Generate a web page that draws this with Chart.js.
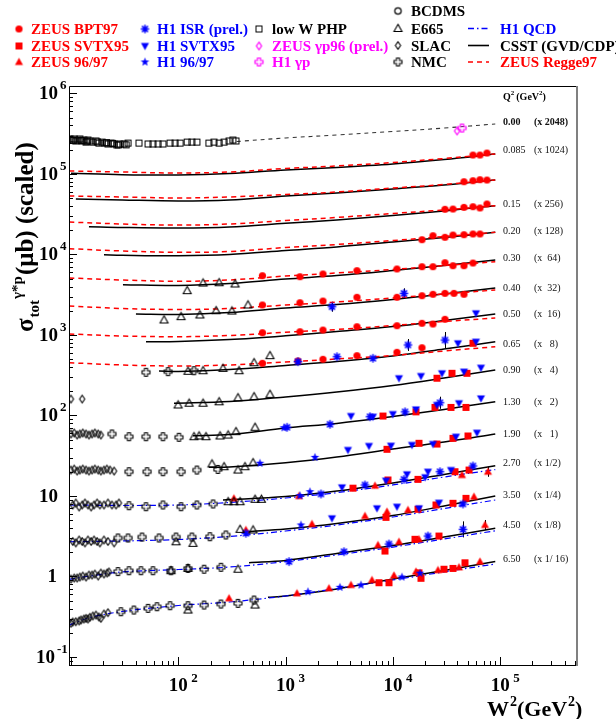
<!DOCTYPE html>
<html>
<head>
<meta charset="utf-8">
<script src="https://cdn.jsdelivr.net/npm/chart.js@4.4.0/dist/chart.umd.min.js"></script>
<style>
body { margin: 0; background: #fff; }
canvas { display: block; }
</style>
</head>
<body>
<canvas id="chart" width="616" height="719"></canvas>
<script>
// ---- data: [W2 (GeV^2), sigma scaled (mub), optional err low, err high] ----

var lowWPhp = [[9.79,2.72e5],[10.2,2.64e5],[10.5,2.6e5],[10.7,2.72e5],[11.1,2.57e5],[11.6,2.64e5],[12.1,2.72e5],[12.4,2.6e5],
  [12.7,2.57e5],[13.2,2.64e5],[13.8,2.49e5],[14.1,2.55e5],[14.4,2.64e5],[15.0,2.57e5],[16.0,2.49e5],[17.1,2.57e5],[17.6,2.5e5],
  [18.2,2.42e5],[19.5,2.49e5],[20.7,2.42e5],[21.4,2.45e5],[22.1,2.36e5],[23.6,2.42e5],[24.4,2.4e5],[25.2,2.36e5],[26.8,2.29e5],
  [27.7,2.3e5],[28.6,2.36e5],[31.2,2.36e5],[32.6,2.3e5],[34.0,2.42e5],[43.0,2.42e5],[52.2,2.36e5],[58.1,2.36e5],[64.7,2.36e5],
  [72.0,2.36e5],[83.7,2.42e5],[93.2,2.42e5],[104,2.42e5],[121,2.49e5],[134,2.49e5],[149,2.49e5],[193,2.42e5],[215,2.49e5],
  [240,2.42e5],[267,2.49e5],[297,2.57e5],[323,2.64e5],[345,2.57e5]];
var zeusGp96 = [[39600,3.42e5]];
var h1Gp = [[44100,3.72e5]];

var zeusBpt97 = [
  [55780,1.72e5],[64830,1.72e5],[75340,1.82e5],
  [46000,8.01e4],[55780,8.25e4],[64830,8.49e4],[75340,8.41e4],
  [30590,3.64e4],[36330,3.67e4],[46000,3.85e4],[55780,3.92e4],[64830,3.78e4],[75340,4.24e4],
  [18670,1.526e4],[23640,1.711e4],[30590,1.634e4],[36330,1.745e4],[46000,1.76e4],[55780,1.796e4],[64830,1.796e4],
  [608,5450],[1362,5290],[2231,5720],[4629,6290],[10920,6600],[18670,7050],[23640,7050],[30590,7900],[36330,7250],[46000,7250],[55780,7830],
  [608,2357],[1362,2517],[2231,2642],[4629,2938],[10920,2938],[18670,3075],[23640,3200],[30590,3290],[37110,3290],[46000,3200],
  [608,1067],[1362,1098],[2231,1152],[4629,1267],[10920,1304],[18670,1396],[23640,1368],[30590,1565],
  [608,445],[1305,475],[2231,499],[4629,553],[10920,609],[18670,695]];

var zeusSvtx95 = [
  [55780,788],
  [25760,290],[35550,334],[49060,334],
  [8087,98.5],[16420,111],[24680,126],[34790,126],[48010,126],
  [8810,38.0],[17510,45.1],[25760,44.2],[36330,52.0],[50120,55.6],
  [4248,12.5],[9003,15.8],[17130,16.1],[37910,20.0],[51220,21.0],
  [8624,5.43],[17130,6.83],[25210,7.73],[36330,8.11],[48010,9.35],
  [8441,2.07],[16070,2.90],[26900,3.18],
  [7421,0.837],[9197,0.837],[17510,1.11],[18280,0.949],[29950,1.23],[36330,1.26],[46990,1.48]];

var zeus9697 = [
  [330,9.35],[1333,9.99],[6810,13.4],[44060,18.2],[77000,20.0,17.3,23.1],
  [427,3.78],[1762,4.49],[5495,5.64],[8810,6.38],[13830,6.70],[57000,9.79],
  [7262,2.46],[11400,2.70],[17510,2.90],[72190,4.36,3.78,5.03],
  [297,0.536],[1277,0.618],[2538,0.713],[4070,0.784],[6387,0.904],[10240,1.03],[16420,1.15],[26320,1.20],[41310,1.30],[64830,1.53]];

var h1Isr = [
  [2706,2245,1945,2590],[12690,3290,2850,3800],
  [1305,466],[3013,537],[6524,513],[13830,751,633,891],[30590,866,689,1089],
  [1031,71.3],[2593,77.7],[6117,96.5],[12970,111],[27480,144,121,171],
  [2137,10.6],[5495,13.7],[12690,16.1],[27480,20.0],[55780,23.6],
  [427,3.44],[45010,7.95],
  [1076,1.53],[3502,2.03],[9197,2.53],[21230,3.18],[45010,3.85,3.06,4.84]];

var h1Svtx95 = [
  [59480,1859],
  [40440,788],[59480,825],
  [11400,290],[18280,309],[28680,334],[46000,350],[66240,392],
  [4070,98.5],[6524,96.5],[9998,104],[16420,119],[25760,135],[41310,142],[66240,163],
  [3816,37.3],[5989,41.8],[9601,42.1],[15070,43.0],[23640,44.2],[38730,54.5],[60770,61.1],
  [3355,12.8],[8624,15.5],[13530,18.6],[21230,20.0],[20000,17.1],[34790,21.0],
  [2706,5.28],[7110,7.03],[10920,7.36],[17510,7.03],[26900,8.25]];

var h1_9697 = [
  [966,70.4],
  [577,25.5],[1879,30.2],
  [1361,10.1],[1688,11.3],
  [1392,4.36],
  [1617,0.647],[3214,0.734],[5043,0.784],[12150,0.985],[17900,1.10]];

var e665 = [
  [121,3550],[170,4420],[240,4460],[338,4300],
  [73.6,1535],[106,1687],[159,1771],[225,2000],[316,1985],[446,2357],
  [123,354],[170,360],[261,385],[368,360],[508,452],[715,553],
  [99.6,135],[126,142],[170,142],[240,148],[360,166],[508,171],[715,183],
  [140,54.5],[156,55.6],[181,54.5],[245,55.6],[291,57.2],[345,62.9],[519,71.3],
  [206,25.0],[267,23.1],[360,21.0],[418,23.1],[497,25.9],
  [291,8.49],[330,8.49],[376,8.49],[519,9.09],[595,9.09],
  [95.2,2.70],[137,2.58],[376,3.85],[497,3.78],
  [85.5,1.18],[123,1.26],[360,1.23],
  [123,0.383],[519,0.442]];

var nmc = [
  [50.0,344],[80.2,350],[140,360],
  [24.1,58.9],[34.7,54.5],[50.0,54.5],[72.0,54.5],[101.5,53.6],
  [34.7,20.0],[51.1,20.0],[72.0,20.0],[106,20.0],[149,21.0],[234,21.4],
  [34.7,7.57],[50.0,7.36],[72.0,7.73],[106,7.36],[149,7.73],[211,7.95],
  [27.4,3.01],[34.0,3.01],[45.9,3.09],[66.1,3.01],[95.2,3.09],[134,3.09],[197,3.12],[278,3.28],
  [27.4,1.15],[34.7,1.18],[44.9,1.18],[58.1,1.18],[85.5,1.18],[123,1.26],[174,1.23],[250,1.30],
  [29.2,0.365],[38.6,0.383],[52.2,0.402],[63.3,0.421],[83.7,0.433],[123,0.433],[174,0.442],[250,0.455],[360,0.464],[508,0.510]];

var slac = [
  [10.0,160],[12.7,160],
  [10.0,58.9],[10.7,60.6],[11.4,57.2],[12.1,58.9],[12.9,60.6],[13.8,58.9],[14.7,57.2],[15.7,58.9],[16.7,60.6],[17.9,58.9],[19.0,57.2],
  [10.0,21.0],[10.7,21.6],[11.4,20.4],[12.1,21.0],[12.9,21.6],[13.8,21.0],[14.7,20.4],[15.7,21.0],[16.7,21.6],[17.9,21.0],
  [19.0,20.4],[20.3,21.0],[21.6,21.6],[23.1,21.0],[25.2,20.4],
  [10.4,7.73],[11.1,8.18],[11.9,7.30],[12.7,7.73],[13.5,8.18],[14.4,7.73],[15.4,7.30],[16.4,7.73],[17.5,8.18],[18.6,7.73],
  [20.3,7.73],[22.1,8.18],[24.1,7.73],[26.3,7.73],[28.0,8.18],
  [10.4,2.72],[11.1,2.61],[11.9,2.84],[12.7,2.72],[13.5,2.61],[14.4,2.84],[15.4,2.72],[16.4,2.84],[17.5,2.72],[18.6,2.61],
  [20.3,2.84],[22.1,2.72],[25.2,2.61],
  [10.0,0.930],[10.7,0.957],[11.4,0.957],[12.1,0.985],[12.9,1.013],[13.8,0.985],[14.7,1.043],[15.7,1.043],[16.7,1.073],
  [17.9,1.013],[19.0,1.104],[20.3,1.073],[21.7,1.104],[22.6,1.14],
  [10.0,0.262],[10.4,0.272],[11.1,0.274],[11.9,0.280],[12.4,0.288],[13.2,0.296],[13.8,0.302],[14.4,0.296],[15.0,0.311],
  [16.0,0.323],[17.1,0.332],[18.2,0.314],[19.0,0.302],[20.3,0.342],[22.1,0.355]];

// model curves, one list per Q2 bin
var phpCurve = [[350,2.53e5],[1000,2.80e5],[3000,3.05e5],[1e4,3.37e5],[3e4,3.72e5],[9e4,4.18e5]];

var csstCurves = [
  [[10,1.019e5],[30,9.79e4],[100,9.71e4],[300,1.013e5],[1000,1.12e5],[3000,1.203e5],[1e4,1.33e5],[3e4,1.512e5],[9e4,1.77e5]],
  [[11.1,4.89e4],[30,4.75e4],[100,4.62e4],[300,4.75e4],[1000,5.32e4],[3000,5.80e4],[1e4,6.51e4],[3e4,7.30e4],[9e4,8.41e4]],
  [[14.7,2.213e4],[30,2.163e4],[100,2.132e4],[300,2.194e4],[1000,2.44e4],[3000,2.68e4],[1e4,3.05e4],[3e4,3.47e4],[9e4,4.04e4]],
  [[20.3,9930],[30,9790],[100,9650],[300,9990],[1000,1.12e4],[3000,1.238e4],[1e4,1.429e4],[3e4,1.625e4],[9e4,1.886e4]],
  [[30.5,4210],[100,4120],[300,4360],[1000,4960],[3000,5480],[1e4,6320],[3e4,7290],[9e4,8540]],
  [[40.3,1822],[100,1796],[300,1902],[1000,2163],[3000,2390],[1e4,2760],[3e4,3230],[9e4,3830]],
  [[50,825],[100,830],[300,878],[1000,979],[3000,1105],[1e4,1274],[3e4,1512],[9e4,1822]],
  [[66.1,357],[100,352],[300,372],[1000,418],[3000,468],[1e4,548],[3e4,669],[9e4,825]],
  [[91.2,142],[300,149],[1000,170],[3000,196],[1e4,236],[3e4,292],[9e4,367]],
  [[137,56.1],[300,58.0],[1000,69.9],[3000,79.5],[1e4,97.1],[3e4,119],[9e4,148]],
  [[193,22.7],[300,22.9],[1000,25.9],[3000,30.5],[1e4,38.3],[3e4,46.8],[9e4,58.9]],
  [[261,8.91],[1000,9.85],[3000,11.5],[1e4,14.5],[3e4,18.5],[9e4,23.8]],
  [[446,3.60],[1000,3.89],[3000,4.55],[1e4,5.72],[3e4,7.51],[9e4,9.99]],
  [[456,1.48],[1000,1.58],[3000,1.93],[1e4,2.42],[3e4,3.09],[9e4,3.97]],
  [[685,0.551],[1000,0.572],[3000,0.699],[1e4,0.930],[3e4,1.19],[9e4,1.53]]];

var reggeCurves = [
  [[9.6,1.089e5],[30,1.058e5],[100,1.028e5],[300,1.058e5],[1000,1.169e5],[3000,1.256e5],[1e4,1.388e5],[3e4,1.556e5],[9e4,1.77e5]],
  [[9.6,5.32e4],[30,5.18e4],[100,5.03e4],[300,5.18e4],[1000,5.56e4],[3000,5.97e4],[1e4,6.69e4],[3e4,7.40e4],[9e4,8.41e4]],
  [[9.6,2.53e4],[30,2.39e4],[100,2.32e4],[300,2.39e4],[1000,2.64e4],[3000,2.88e4],[1e4,3.23e4],[3e4,3.57e4],[9e4,4.04e4]],
  [[9.6,1.18e4],[30,1.105e4],[100,1.064e4],[300,1.089e4],[1000,1.221e4],[3000,1.33e4],[1e4,1.491e4],[3e4,1.672e4],[9e4,1.886e4]],
  [[9.6,5100],[30,4820],[100,4640],[300,4820],[1000,5400],[3000,5890],[1e4,6510],[3e4,7290],[9e4,8130]],
  [[9.6,2290],[30,2133],[100,2073],[300,2133],[1000,2357],[3000,2568],[1e4,2880],[3e4,3230],[9e4,3620]],
  [[9.6,1028],[30,971],[100,952],[300,985],[1000,1080],[3000,1169],[1e4,1311],[3e4,1470],[9e4,1625]],
  [[9.6,452],[30,424],[100,412],[300,424],[1000,461],[3000,503],[1e4,556],[3e4,632],[9e4,715]]];

var qcdCurves = [
  [[9.6,7.73],[30,7.62],[100,7.73],[300,8.30],[1000,9.44],[3000,11.0],[1e4,13.7],[3e4,17.2],[9e4,21.3]],
  [[9.6,2.70],[30,2.76],[100,2.88],[300,3.14],[1000,3.67],[3000,4.36],[1e4,5.48],[3e4,6.99],[9e4,8.91]],
  [[9.6,0.922],[15,1.013],[30,1.14],[100,1.22],[300,1.31],[1000,1.53],[3000,1.85],[1e4,2.32],[3e4,2.92],[9e4,3.70]],
  [[9.6,0.249],[15,0.309],[30,0.367],[100,0.436],[300,0.482],[1000,0.572],[3000,0.709],[1e4,0.904],[3e4,1.14],[9e4,1.43]]];

var q2Labels = ['0.00','0.085','0.15','0.20','0.30','0.40','0.50','0.65','0.90','1.30','1.90','2.70','3.50','4.50','6.50'];
var scaleLabels = ['(x 2048)','(x 1024)','(x 256)','(x 128)','(x  64)','(x  32)','(x  16)','(x   8)','(x   4)','(x   2)','(x   1)',
  '(x 1/2)','(x 1/4)','(x 1/8)','(x 1/ 16)'];

// ---- markers ----
var RED = '#ff0000', BLUE = '#0000ff', MAG = '#ff00ff', BLK = '#000000';
var SERIF = '"Liberation Serif", "Times New Roman", serif';

function mark(fn) {
  var c = document.createElement('canvas');
  c.width = 13; c.height = 13;
  var g = c.getContext('2d');
  g.translate(6.5, 6.5);
  fn(g);
  return c;
}
function poly(g, p) {
  g.beginPath();
  g.moveTo(p[0][0], p[0][1]);
  for (var i = 1; i < p.length; i++) g.lineTo(p[i][0], p[i][1]);
  g.closePath();
}
function crossPath(g, a, b) {
  poly(g, [[-b,-a],[b,-a],[b,-b],[a,-b],[a,b],[b,b],[b,a],[-b,a],[-b,b],[-a,b],[-a,-b],[-b,-b]]);
}

var mCircle = mark(function (g) { g.fillStyle = RED; g.beginPath(); g.arc(0, 0, 3.6, 0, 7); g.fill(); });
var mSquare = mark(function (g) { g.fillStyle = RED; g.fillRect(-3.5, -3.5, 7, 7); });
var mTri = mark(function (g) { g.fillStyle = RED; poly(g, [[0,-4.2],[4,3],[-4,3]]); g.fill(); });
var mAst = mark(function (g) {
  g.strokeStyle = BLUE; g.lineWidth = 1.5; g.beginPath();
  for (var i = 0; i < 4; i++) {
    var a = i * Math.PI / 4;
    g.moveTo(-4.2 * Math.cos(a), -4.2 * Math.sin(a));
    g.lineTo(4.2 * Math.cos(a), 4.2 * Math.sin(a));
  }
  g.stroke();
});
var mDown = mark(function (g) { g.fillStyle = BLUE; poly(g, [[0,4.2],[4,-3],[-4,-3]]); g.fill(); });
var mStar = mark(function (g) {
  var p = [];
  for (var i = 0; i < 10; i++) {
    var r = i % 2 ? 1.9 : 4.6, a = -Math.PI / 2 + i * Math.PI / 5;
    p.push([r * Math.cos(a), r * Math.sin(a)]);
  }
  g.fillStyle = BLUE; poly(g, p); g.fill();
});
var mOpenSq = mark(function (g) { g.strokeStyle = BLK; g.lineWidth = 1; g.strokeRect(-3, -3, 6, 6); });
var mOpenTri = mark(function (g) { g.strokeStyle = BLK; g.lineWidth = 1.1; poly(g, [[0,-4.2],[4,3],[-4,3]]); g.stroke(); });
var mOpenDia = mark(function (g) { g.strokeStyle = BLK; g.lineWidth = 1.1; poly(g, [[0,-3.8],[2.6,0],[0,3.8],[-2.6,0]]); g.stroke(); });
var mOpenCross = mark(function (g) { g.strokeStyle = BLK; g.lineWidth = 1.1; crossPath(g, 4, 1.5); g.stroke(); });
var mOpenCirc = mark(function (g) { g.strokeStyle = BLK; g.lineWidth = 1.2; g.beginPath(); g.arc(0, 0, 3.2, 0, 7); g.stroke(); });
var mMagDia = mark(function (g) { g.strokeStyle = MAG; g.lineWidth = 1.2; poly(g, [[0,-3.8],[2.6,0],[0,3.8],[-2.6,0]]); g.stroke(); });
var mMagCross = mark(function (g) { g.strokeStyle = MAG; g.lineWidth = 1.2; crossPath(g, 4, 1.5); g.stroke(); });

// ---- datasets ----
function pts(arr) {
  return arr.map(function (p) { return { x: p[0], y: p[1], lo: p[2], hi: p[3] }; });
}
function dots(arr, img, col) {
  return { data: pts(arr), pointStyle: img, pointRadius: 4, showLine: false, order: 0, errColor: col };
}
function curve(arr, col, dash, w) {
  return { data: pts(arr), showLine: true, borderColor: col, borderDash: dash, borderWidth: w,
    pointRadius: 0, tension: 0.35, order: 1, fill: false };
}

var datasets = [];
datasets.push(curve(phpCurve, '#333333', [4, 4], 1.1));
reggeCurves.forEach(function (c) { datasets.push(curve(c, RED, [5, 4], 1.5)); });
qcdCurves.forEach(function (c) { datasets.push(curve(c, BLUE, [6, 3, 1.5, 3], 1.2)); });
csstCurves.forEach(function (c) { datasets.push(curve(c, BLK, [], 1.5)); });

datasets.push(dots(slac, mOpenDia, BLK));
datasets.push(dots(nmc, mOpenCross, BLK));
datasets.push(dots(e665, mOpenTri, BLK));
datasets.push(dots(lowWPhp, mOpenSq, BLK));
datasets.push(dots(zeusGp96, mMagDia, MAG));
datasets.push(dots(h1Gp, mMagCross, MAG));
datasets.push(dots(h1Svtx95, mDown, BLK));
datasets.push(dots(h1Isr, mAst, BLK));
datasets.push(dots(h1_9697, mStar, BLK));
datasets.push(dots(zeusSvtx95, mSquare, BLK));
datasets.push(dots(zeus9697, mTri, BLK));
datasets.push(dots(zeusBpt97, mCircle, BLK));

// ---- drawing helpers ----
function txt(ctx, s, x, y, font, col, align) {
  ctx.font = font; ctx.fillStyle = col || BLK; ctx.textAlign = align || 'left';
  ctx.fillText(s, x, y);
  return ctx.measureText(s).width;
}

var errorBars = {
  id: 'errorBars',
  beforeDatasetsDraw: function (chart) {
    var ctx = chart.ctx, ys = chart.scales.y;
    ctx.save();
    ctx.lineWidth = 1;
    chart.data.datasets.forEach(function (ds, i) {
      if (!ds.errColor) return;
      var meta = chart.getDatasetMeta(i);
      ds.data.forEach(function (d, j) {
        if (d.lo === undefined) return;
        var x = Math.round(meta.data[j].x) + 0.5;
        ctx.strokeStyle = ds.errColor;
        ctx.beginPath();
        ctx.moveTo(x, ys.getPixelForValue(d.lo));
        ctx.lineTo(x, ys.getPixelForValue(d.hi));
        ctx.stroke();
      });
    });
    ctx.restore();
  }
};

var decor = {
  id: 'decor',
  afterDraw: function (chart) {
    var ctx = chart.ctx, a = chart.chartArea, xs = chart.scales.x, ys = chart.scales.y;
    ctx.save();
    ctx.textBaseline = 'alphabetic';

    // frame
    ctx.strokeStyle = BLK; ctx.lineWidth = 1;
    ctx.beginPath();
    ctx.moveTo(a.right, a.top + 0.5); ctx.lineTo(a.left + 0.5, a.top + 0.5);
    ctx.lineTo(a.left + 0.5, a.bottom + 0.5); ctx.lineTo(a.right, a.bottom + 0.5);
    ctx.stroke();
    ctx.strokeStyle = '#808080'; ctx.lineWidth = 2;
    ctx.beginPath(); ctx.moveTo(a.right, a.top); ctx.lineTo(a.right, a.bottom + 1); ctx.stroke();

    // ticks
    ctx.strokeStyle = BLK; ctx.lineWidth = 1;
    ctx.beginPath();
    for (var k = -2; k <= 6; k++) {
      for (var m = 1; m <= 9; m++) {
        var v = m * Math.pow(10, k);
        if (v < ys.min || v > ys.max) continue;
        var py = Math.round(ys.getPixelForValue(v)) + 0.5;
        ctx.moveTo(a.left, py); ctx.lineTo(a.left + (m === 1 ? 8 : 4), py);
      }
    }
    for (k = 0; k <= 5; k++) {
      for (m = 1; m <= 9; m++) {
        v = m * Math.pow(10, k);
        if (v < xs.min || v > xs.max) continue;
        var px = Math.round(xs.getPixelForValue(v)) + 0.5;
        ctx.moveTo(px, a.bottom); ctx.lineTo(px, a.bottom - (m === 1 ? 8 : 4));
      }
    }
    ctx.stroke();

    // y tick labels
    var big = 'bold 19px ' + SERIF, sm = 'bold 13px ' + SERIF;
    for (k = -1; k <= 6; k++) {
      py = ys.getPixelForValue(Math.pow(10, k));
      if (k === 0) { txt(ctx, '1', 57, py + 6, big, BLK, 'right'); continue; }
      if (k === 1) { txt(ctx, '10', 58, py + 6, big, BLK, 'right'); continue; }
      var right = k === -1 ? 55 : 58;
      txt(ctx, '10', right, py + 6, big, BLK, 'right');
      txt(ctx, String(k), right + 2, py - 4, sm, BLK, 'left');
    }
    // x tick labels
    for (k = 2; k <= 5; k++) {
      px = xs.getPixelForValue(Math.pow(10, k));
      txt(ctx, '10', px, 691, big, BLK, 'center');
      txt(ctx, String(k), px + 13, 682, sm, BLK, 'left');
    }

    // x title
    var tf = 'bold 22px ' + SERIF, ts = 'bold 14px ' + SERIF;
    var x = 487;
    x += txt(ctx, 'W', x, 716, tf);
    x += txt(ctx, '2', x + 1, 706, ts) + 1;
    x += txt(ctx, '(GeV', x, 716, tf);
    x += txt(ctx, '2', x + 1, 706, ts) + 1;
    txt(ctx, ')', x, 716, tf);

    // y title (rotated)
    ctx.save();
    ctx.translate(33, 332);
    ctx.rotate(-Math.PI / 2);
    var yf = 'bold 25px ' + SERIF, ysf = 'bold 15px ' + SERIF;
    x = 0;
    x += txt(ctx, 'σ', x, 0, yf) + 1;
    x += txt(ctx, 'tot', x, 6, ysf);
    x += txt(ctx, 'γ*p', x + 1, -11, ysf) + 2;
    txt(ctx, '(μb) (scaled)', x, 0, yf);
    ctx.restore();

    // legend
    var lf = 'bold 15px ' + SERIF;
    var rows = [
      [19, 31, 34, mCircle, 'ZEUS BPT97', RED],
      [19, 31, 51, mSquare, 'ZEUS SVTX95', RED],
      [19, 31, 67, mTri, 'ZEUS 96/97', RED],
      [145, 157, 34, mAst, 'H1 ISR (prel.)', BLUE],
      [145, 157, 51, mDown, 'H1 SVTX95', BLUE],
      [145, 157, 67, mStar, 'H1 96/97', BLUE],
      [259, 272, 34, mOpenSq, 'low W PHP', BLK],
      [259, 272, 51, mMagDia, 'ZEUS γp96 (prel.)', MAG],
      [259, 272, 67, mMagCross, 'H1 γp', MAG],
      [398, 411, 16, mOpenCirc, 'BCDMS', BLK],
      [398, 411, 33.5, mOpenTri, 'E665', BLK],
      [398, 411, 50.5, mOpenDia, 'SLAC', BLK],
      [398, 411, 67, mOpenCross, 'NMC', BLK]
    ];
    rows.forEach(function (r) {
      ctx.drawImage(r[3], r[0] - 6.5, r[2] - 5 - 6.5);
      txt(ctx, r[4], r[1], r[2], lf, r[5]);
    });
    var lines = [
      [33.5, BLUE, [6, 3, 1.5, 3], 'H1 QCD', BLUE],
      [50.5, BLK, [], 'CSST (GVD/CDP)', BLK],
      [67, RED, [5, 4], 'ZEUS Regge97', RED]
    ];
    lines.forEach(function (l) {
      ctx.save();
      ctx.strokeStyle = l[1]; ctx.lineWidth = 1.6; ctx.setLineDash(l[2]);
      ctx.beginPath(); ctx.moveTo(468, l[0] - 5); ctx.lineTo(489, l[0] - 5); ctx.stroke();
      ctx.restore();
      txt(ctx, l[3], 500, l[0], lf, l[4]);
    });

    // Q2 column
    var qf = '10px ' + SERIF, qb = 'bold 10px ' + SERIF, qs = 'bold 7px ' + SERIF;
    x = 503;
    x += txt(ctx, 'Q', x, 100, qb);
    x += txt(ctx, '2', x, 95, qs) + 2;
    x += txt(ctx, '(GeV', x, 100, qb);
    x += txt(ctx, '2', x, 95, qs);
    txt(ctx, ')', x, 100, qb);
    var qy = [121, 149, 203, 230, 257, 287, 313, 343, 369, 401, 433, 462, 494, 524, 558];
    q2Labels.forEach(function (s, i) {
      var f = i === 0 ? qb : qf;
      txt(ctx, s, 503, qy[i] + 3.5, f, '#111');
      txt(ctx, scaleLabels[i], 534, qy[i] + 3.5, f, '#111');
    });

    ctx.restore();
  }
};

new Chart(document.getElementById('chart'), {
  type: 'scatter',
  data: { datasets: datasets },
  options: {
    responsive: false,
    devicePixelRatio: 1,
    animation: false,
    layout: { padding: { left: 69, top: 86, right: 39, bottom: 54 } },
    scales: {
      x: { type: 'logarithmic', display: false, min: 9.58, max: 5.2e5 },
      y: { type: 'logarithmic', display: false, min: 0.0795, max: 1.238e6 }
    },
    plugins: { legend: { display: false }, tooltip: { enabled: false }, colors: { enabled: false } }
  },
  plugins: [errorBars, decor]
});
</script>
</body>
</html>
